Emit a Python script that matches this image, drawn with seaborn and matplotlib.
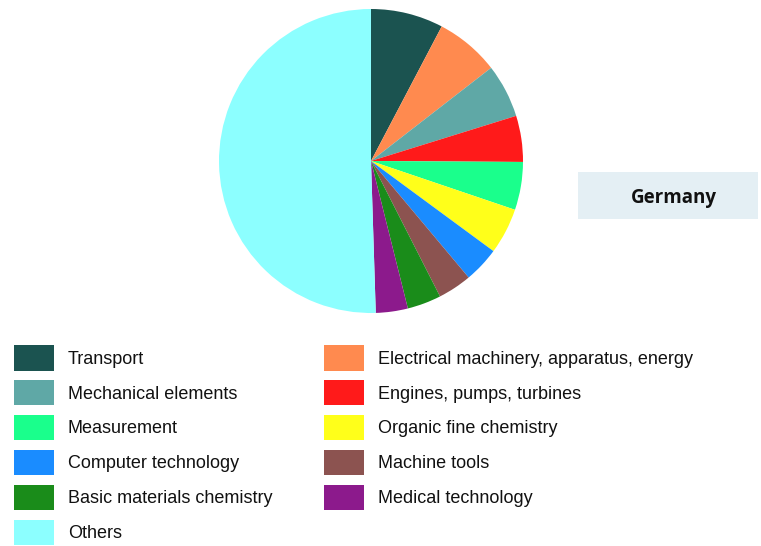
import matplotlib
matplotlib.use("Agg")
import matplotlib.pyplot as plt
from matplotlib.patches import Patch, Rectangle
import seaborn as sns

# Patent share by technology field (percent)
fields = [
    "Transport",
    "Electrical machinery, apparatus, energy",
    "Mechanical elements",
    "Engines, pumps, turbines",
    "Measurement",
    "Organic fine chemistry",
    "Computer technology",
    "Machine tools",
    "Basic materials chemistry",
    "Medical technology",
    "Others",
]
shares = [7.7, 6.8, 5.7, 4.9, 5.1, 4.9, 3.8, 3.6, 3.6, 3.4, 50.5]
colors = [
    "#1b5350", "#ff8a4f", "#5fa8a6", "#ff1a1a", "#1aff8c", "#ffff1a",
    "#1a8cff", "#8c5350", "#1a8c1a", "#8c1a8c", "#8cffff",
]
country = "Germany"

sns.set_theme(style="white")
palette = sns.color_palette(colors)
plt.rcParams["font.family"] = ["Liberation Sans", "DejaVu Sans"]

W, H = 761, 546
fig = plt.figure(figsize=(W / 100, H / 100), dpi=100)
fig.patch.set_facecolor("white")

# square axes holding the pie
cx, cy, r = 371, 161, 152
ax = fig.add_axes([(cx - r) / W, 1 - (cy + r) / H, 2 * r / W, 2 * r / H])
ax.pie(shares, colors=palette, startangle=90, counterclock=False,
       wedgeprops=dict(linewidth=0, antialiased=True))
ax.set_xlim(-1, 1)
ax.set_ylim(-1, 1)
ax.set_aspect("auto")
ax.axis("off")

# country label box
fig.patches.append(Rectangle((578 / W, 1 - 219 / H), 180 / W, 47 / H,
                             transform=fig.transFigure, facecolor="#e4eff4",
                             edgecolor="none", zorder=0))
fig.text(674 / W, 1 - 198 / H, country, ha="center", va="center",
         fontsize=13.5, fontweight="bold", family=["Open Sans", "DejaVu Sans"],
         color="#111111")

# legend laid out in two columns, filled row by row
handles = [Patch(facecolor=c, edgecolor="none") for c in palette]
fs = 13
legend_kw = dict(loc="upper left", frameon=False, fontsize=fs,
                 handlelength=2.2, handleheight=1.8, handletextpad=0.78,
                 labelspacing=0.52, borderpad=0, borderaxespad=0)
left_idx = list(range(0, len(fields), 2))
right_idx = list(range(1, len(fields), 2))
leg1 = fig.legend([handles[i] for i in left_idx], [fields[i] for i in left_idx],
                  bbox_to_anchor=(14 / W, 1 - 345 / H), **legend_kw)
leg2 = fig.legend([handles[i] for i in right_idx], [fields[i] for i in right_idx],
                  bbox_to_anchor=(324 / W, 1 - 345 / H), **legend_kw)
for leg in (leg1, leg2):
    for t in leg.get_texts():
        t.set_color("#111111")

fig.savefig("out.png", dpi=100)
